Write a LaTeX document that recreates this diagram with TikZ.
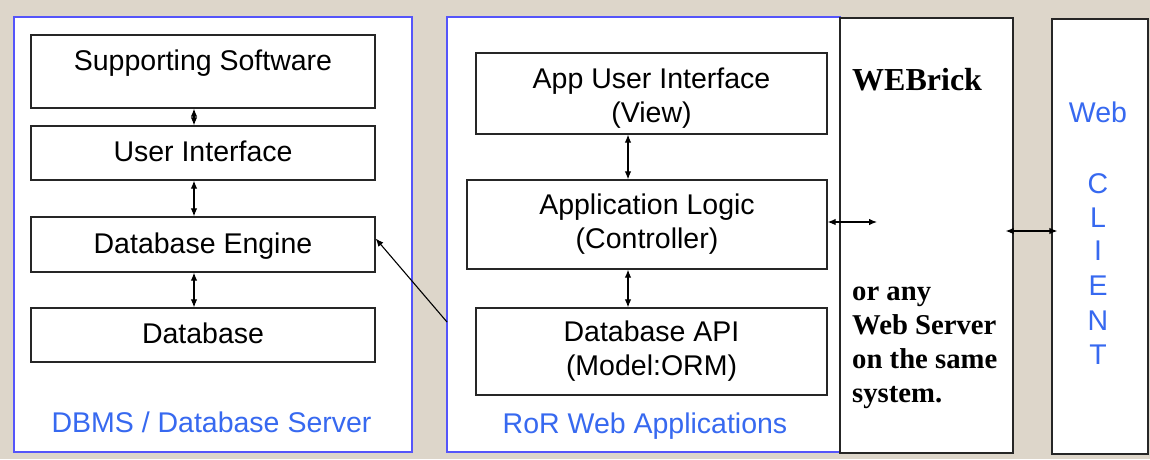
\documentclass[tikz,border=0pt]{standalone}
\usepackage{fontspec}
\setmainfont{Liberation Sans}
\newfontfamily\serifbf{Liberation Serif}[BoldFont={Liberation Serif Bold}]
\usetikzlibrary{arrows.meta,calc}
\definecolor{bg}{RGB}{221,214,202}
\definecolor{frameblue}{RGB}{85,85,250}
\definecolor{labelblue}{RGB}{55,105,240}
\begin{document}
\begin{tikzpicture}[x=1pt,y=-1pt,
  frame/.style={draw=frameblue,line width=1.8pt,fill=white,inner sep=0pt},
  sideframe/.style={draw=black!85,line width=1.3pt,fill=white,inner sep=0pt},
  boxbase/.style={draw=black!85,line width=1.3pt,fill=white,inner sep=0pt,
    font=\fontsize{28.5}{34}\selectfont},
  box/.style={boxbase,align=center},
  onebox/.style={boxbase,text height=20.5pt,text depth=3pt},
  txt/.style={inner sep=0pt,align=center,font=\fontsize{28.5}{34}\selectfont},
  bluetxt/.style={txt,text=labelblue,anchor=base},
  srf/.style={inner sep=0pt,anchor=base west,font=\serifbf\bfseries\fontsize{28.7}{34}\selectfont},
  conn/.style={line width=1.1pt,{Latex[length=8pt,width=6.5pt]}-{Latex[length=8pt,width=6.5pt]}},
  oneway/.style={line width=1.1pt,-{Latex[length=8pt,width=6.5pt]}}]
\fill[bg] (0,0) rectangle (1150,459);
\useasboundingbox (0,0) rectangle (1150,459);
% outer frames
\node[frame,minimum width=398pt,minimum height=435pt] (dbms) at (213,234.5) {};
\node[frame,minimum width=393pt,minimum height=435pt] (ror) at (643.5,234.5) {};
\node[sideframe,minimum width=173pt,minimum height=435pt] (webrick) at (926.5,235.5) {};
\node[sideframe,minimum width=96pt,minimum height=435pt] (client) at (1100,236.5) {};
% DBMS boxes
\node[box,minimum width=344pt,minimum height=73pt] (sup) at (203,71.5) {};
\node[txt] (suptext) at (203,63) {Supporting Software};
\node[onebox,minimum width=344pt,minimum height=54pt] (ui) at (203,153) {User Interface};
\node[onebox,minimum width=344pt,minimum height=55pt] (dbe) at (203,244.5) {Database Engine};
\node[onebox,minimum width=344pt,minimum height=54pt] (db) at (203,335) {Database};
\node[bluetxt] (dbmslabel) at (211.5,432) {DBMS / Database Server};
% RoR boxes
\node[box,minimum width=351pt,minimum height=81pt] (view) at (651.5,93.5) {};
\node[txt] (viewtext) at (651.5,98.5) {App User Interface\\(View)};
\node[box,minimum width=360pt,minimum height=89pt] (ctrl) at (647,224.5) {Application Logic\\(Controller)};
\node[box,minimum width=351pt,minimum height=87pt] (api) at (651.5,351.5) {Database API\\(Model:ORM)};
\node[bluetxt] (rorlabel) at (645,433) {RoR Web Applications};
% WEBrick texts
\node[srf,font=\serifbf\bfseries\fontsize{32}{34}\selectfont] (wbt) at (852,90) {WEBrick};
\node[srf] (w1) at (852,300) {or any};
\node[srf] (w2) at (852,334) {Web Server};
\node[srf] (w3) at (852,368) {on the same};
\node[srf] (w4) at (852,402) {system.};
% Client texts
\node[bluetxt] (web) at (1098,122) {Web};
\foreach \ch/\yy in {C/193,L/227,I/260,E/295,N/330,T/364}
  \node[bluetxt] (cl\ch) at (1098,\yy) {\ch};
% connectors
\draw[conn] ($(sup.south)+(-9,0)$) -- ($(ui.north)+(-9,0)$);
\draw[conn] ($(ui.south)+(-9,0)$) -- ($(dbe.north)+(-9,0)$);
\draw[conn] ($(dbe.south)+(-9,0)$) -- ($(db.north)+(-9,0)$);
\draw[conn] ($(view.south)+(-23.5,0)$) -- ($(ctrl.north)+(-19,0)$);
\draw[conn] ($(ctrl.south)+(-19,0)$) -- ($(api.north)+(-23.5,0)$);
\coordinate (wbtip) at (877,222);
\draw[conn] (ctrl.east |- wbtip) -- (wbtip);
\coordinate (rorl) at (447,322);
\draw[oneway] (rorl) -- ($(dbe.east)+(0,-6)$);
\coordinate (cly) at (0,231);
\draw[conn,shorten <=-8pt,shorten >=-6pt] (webrick.east |- cly) -- (client.west |- cly);
\end{tikzpicture}
\end{document}
